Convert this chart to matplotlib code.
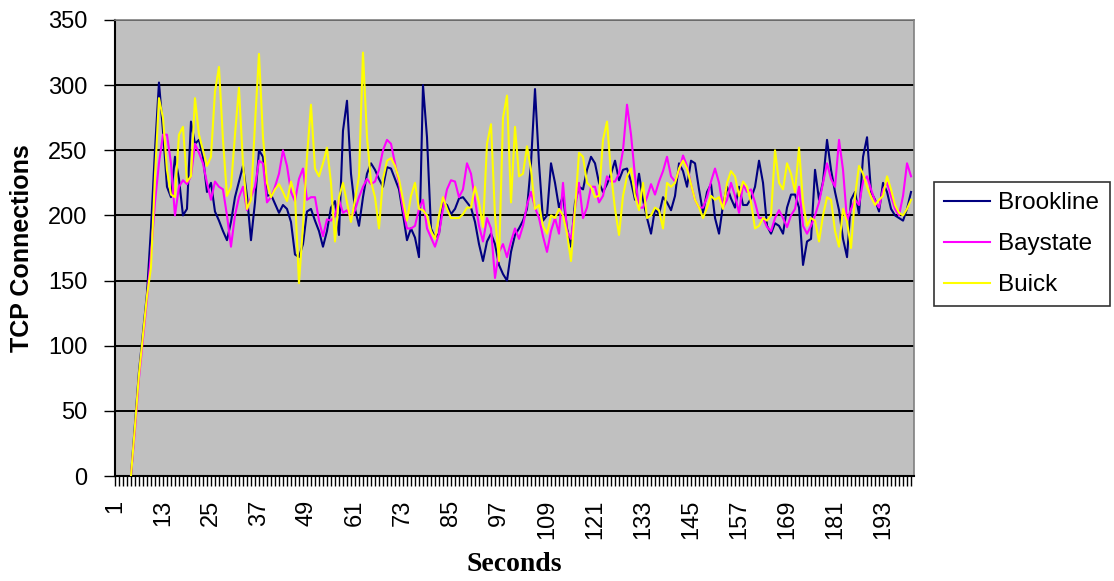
import numpy as np
import matplotlib
matplotlib.use("Agg")
import matplotlib.pyplot as plt
from matplotlib.ticker import FixedLocator, MultipleLocator

N = None
seconds = np.arange(1, 201)
tick_labels = list(range(1, 200, 12))

brookline = [
    N, N, N, N, 0, 40, 80, 110, 140, 190,
    250, 302, 265, 222, 214, 245, 228, 200, 205, 272,
    255, 258, 245, 218, 225, 203, 196, 188, 181, 195,
    214, 226, 238, 215, 181, 210, 250, 245, 215, 216,
    209, 202, 208, 205, 195, 170, 168, 178, 203, 205,
    196, 188, 176, 188, 206, 211, 185, 265, 288, 232,
    205, 192, 214, 232, 240, 235, 228, 222, 237, 236,
    228, 220, 201, 181, 190, 183, 168, 300, 260, 190,
    183, 186, 210, 208, 201, 205, 213, 214, 210, 206,
    195, 178, 165, 180, 186, 178, 162, 155, 150, 172,
    185, 190, 196, 205, 240, 297, 240, 196, 200, 240,
    225, 206, 215, 190, 176, 210, 222, 220, 235, 245,
    240, 225, 218, 224, 232, 242, 227, 235, 236, 226,
    212, 232, 212, 198, 186, 205, 201, 214, 210, 204,
    215, 240, 234, 222, 242, 240, 220, 202, 218, 224,
    198, 186, 208, 222, 213, 206, 222, 208, 208, 213,
    222, 242, 225, 192, 186, 194, 192, 186, 206, 216,
    216, 206, 162, 180, 182, 235, 212, 226, 258, 235,
    218, 204, 182, 168, 212, 218, 201, 245, 260, 218,
    212, 203, 225, 218, 205, 200, 198, 196, 205, 218,
]

baystate = [
    N, N, N, N, 0, 35, 75, 105, 135, 170,
    210, 240, 262, 262, 240, 200, 222, 227, 224, 230,
    255, 248, 240, 225, 212, 226, 222, 220, 200, 176,
    200, 214, 222, 204, 214, 222, 242, 240, 210, 214,
    222, 232, 250, 238, 218, 211, 228, 236, 212, 214,
    214, 196, 184, 197, 196, 200, 212, 202, 204, 198,
    204, 214, 222, 228, 224, 226, 235, 250, 258, 255,
    240, 225, 205, 190, 190, 192, 205, 212, 190, 183,
    176, 186, 205, 220, 227, 226, 214, 220, 240, 232,
    212, 192, 180, 198, 190, 152, 172, 178, 168, 180,
    190, 182, 192, 208, 218, 206, 198, 184, 172, 188,
    198, 186, 225, 188, 182, 205, 225, 198, 206, 222,
    222, 210, 215, 230, 226, 226, 232, 250, 285, 262,
    230, 206, 206, 214, 224, 216, 226, 234, 245, 230,
    226, 234, 246, 238, 224, 212, 206, 206, 214, 226,
    236, 225, 206, 212, 225, 215, 202, 224, 218, 220,
    210, 198, 198, 191, 188, 198, 204, 198, 191, 200,
    205, 222, 192, 186, 192, 200, 210, 225, 240, 228,
    222, 258, 235, 196, 205, 212, 208, 226, 230, 220,
    211, 206, 220, 225, 215, 205, 200, 215, 240, 230,
]

buick = [
    N, N, N, N, 0, 38, 78, 108, 138, 160,
    230, 290, 275, 235, 216, 214, 262, 268, 226, 230,
    290, 262, 250, 238, 245, 295, 314, 258, 215, 222,
    262, 298, 240, 205, 212, 270, 324, 260, 225, 214,
    220, 224, 218, 211, 226, 215, 148, 192, 245, 285,
    236, 230, 240, 252, 225, 180, 214, 225, 210, 195,
    212, 230, 325, 260, 226, 214, 190, 228, 242, 244,
    238, 228, 212, 196, 215, 225, 205, 204, 200, 188,
    182, 200, 214, 205, 198, 198, 198, 201, 206, 206,
    222, 210, 191, 255, 270, 200, 165, 275, 292, 210,
    268, 230, 232, 253, 235, 205, 208, 192, 186, 200,
    198, 205, 200, 186, 165, 205, 248, 245, 225, 222,
    214, 215, 258, 272, 232, 205, 185, 215, 230, 236,
    215, 204, 225, 198, 200, 206, 204, 190, 225, 222,
    225, 236, 242, 236, 224, 212, 206, 198, 206, 215,
    212, 214, 205, 225, 234, 230, 215, 226, 222, 210,
    190, 192, 198, 196, 200, 250, 225, 220, 240, 232,
    218, 252, 210, 192, 198, 196, 180, 200, 214, 212,
    188, 176, 205, 195, 175, 215, 238, 232, 222, 214,
    208, 212, 215, 230, 220, 208, 202, 200, 205, 212,
]

series = [("Brookline", brookline, "#000080"),
          ("Baystate", baystate, "#FF00FF"),
          ("Buick", buick, "#FFFF00")]

plt.rcParams['font.family'] = ['Liberation Sans', 'DejaVu Sans']

fig = plt.figure(figsize=(11.14, 5.81), dpi=100)
ax = fig.add_axes([0.1032, 0.1807, 0.7173, 0.7849])
ax.set_facecolor("#C0C0C0")

for name, vals, col in series:
    y = np.array([np.nan if v is None else v for v in vals], dtype=float)
    ax.plot(seconds, y, color=col, lw=1.5, label=name, zorder=3)

ax.set_xlim(1, 200.75)
ax.set_ylim(0, 350)

# black horizontal gridlines every 50
ax.yaxis.set_major_locator(MultipleLocator(50))
ax.grid(axis="y", color="black", lw=1.4, zorder=1)
ax.set_axisbelow(True)

ax.xaxis.set_major_locator(FixedLocator(tick_labels))
ax.xaxis.set_minor_locator(MultipleLocator(1))
ax.set_xticklabels([str(t) for t in tick_labels], rotation=90, fontsize=17)
ax.tick_params(axis="x", which="both", length=7, width=1, direction="out", pad=10)
ax.tick_params(axis="y", length=8, width=1, labelsize=17, pad=12)

for s in ["left", "bottom"]:
    ax.spines[s].set_color("black")
    ax.spines[s].set_linewidth(1.5)
for s in ["top", "right"]:
    ax.spines[s].set_color("#808080")
    ax.spines[s].set_linewidth(1.2)

ax.set_xlabel("Seconds", fontsize=20, fontweight="bold",
              family=["Liberation Serif", "DejaVu Serif"], labelpad=9)
ax.set_ylabel("TCP Connections", fontsize=18, fontweight="bold", labelpad=10)

leg = fig.legend(loc="upper left", bbox_to_anchor=(0.838, 0.687),
                 fontsize=17.5, frameon=True, fancybox=False,
                 edgecolor="black", handlelength=1.9, handletextpad=0.35,
                 labelspacing=0.78, borderpad=0.42, borderaxespad=0)
leg.get_frame().set_linewidth(1.2)
for line in leg.get_lines():
    line.set_linewidth(1.5)

fig.savefig("out.png", dpi=100)
